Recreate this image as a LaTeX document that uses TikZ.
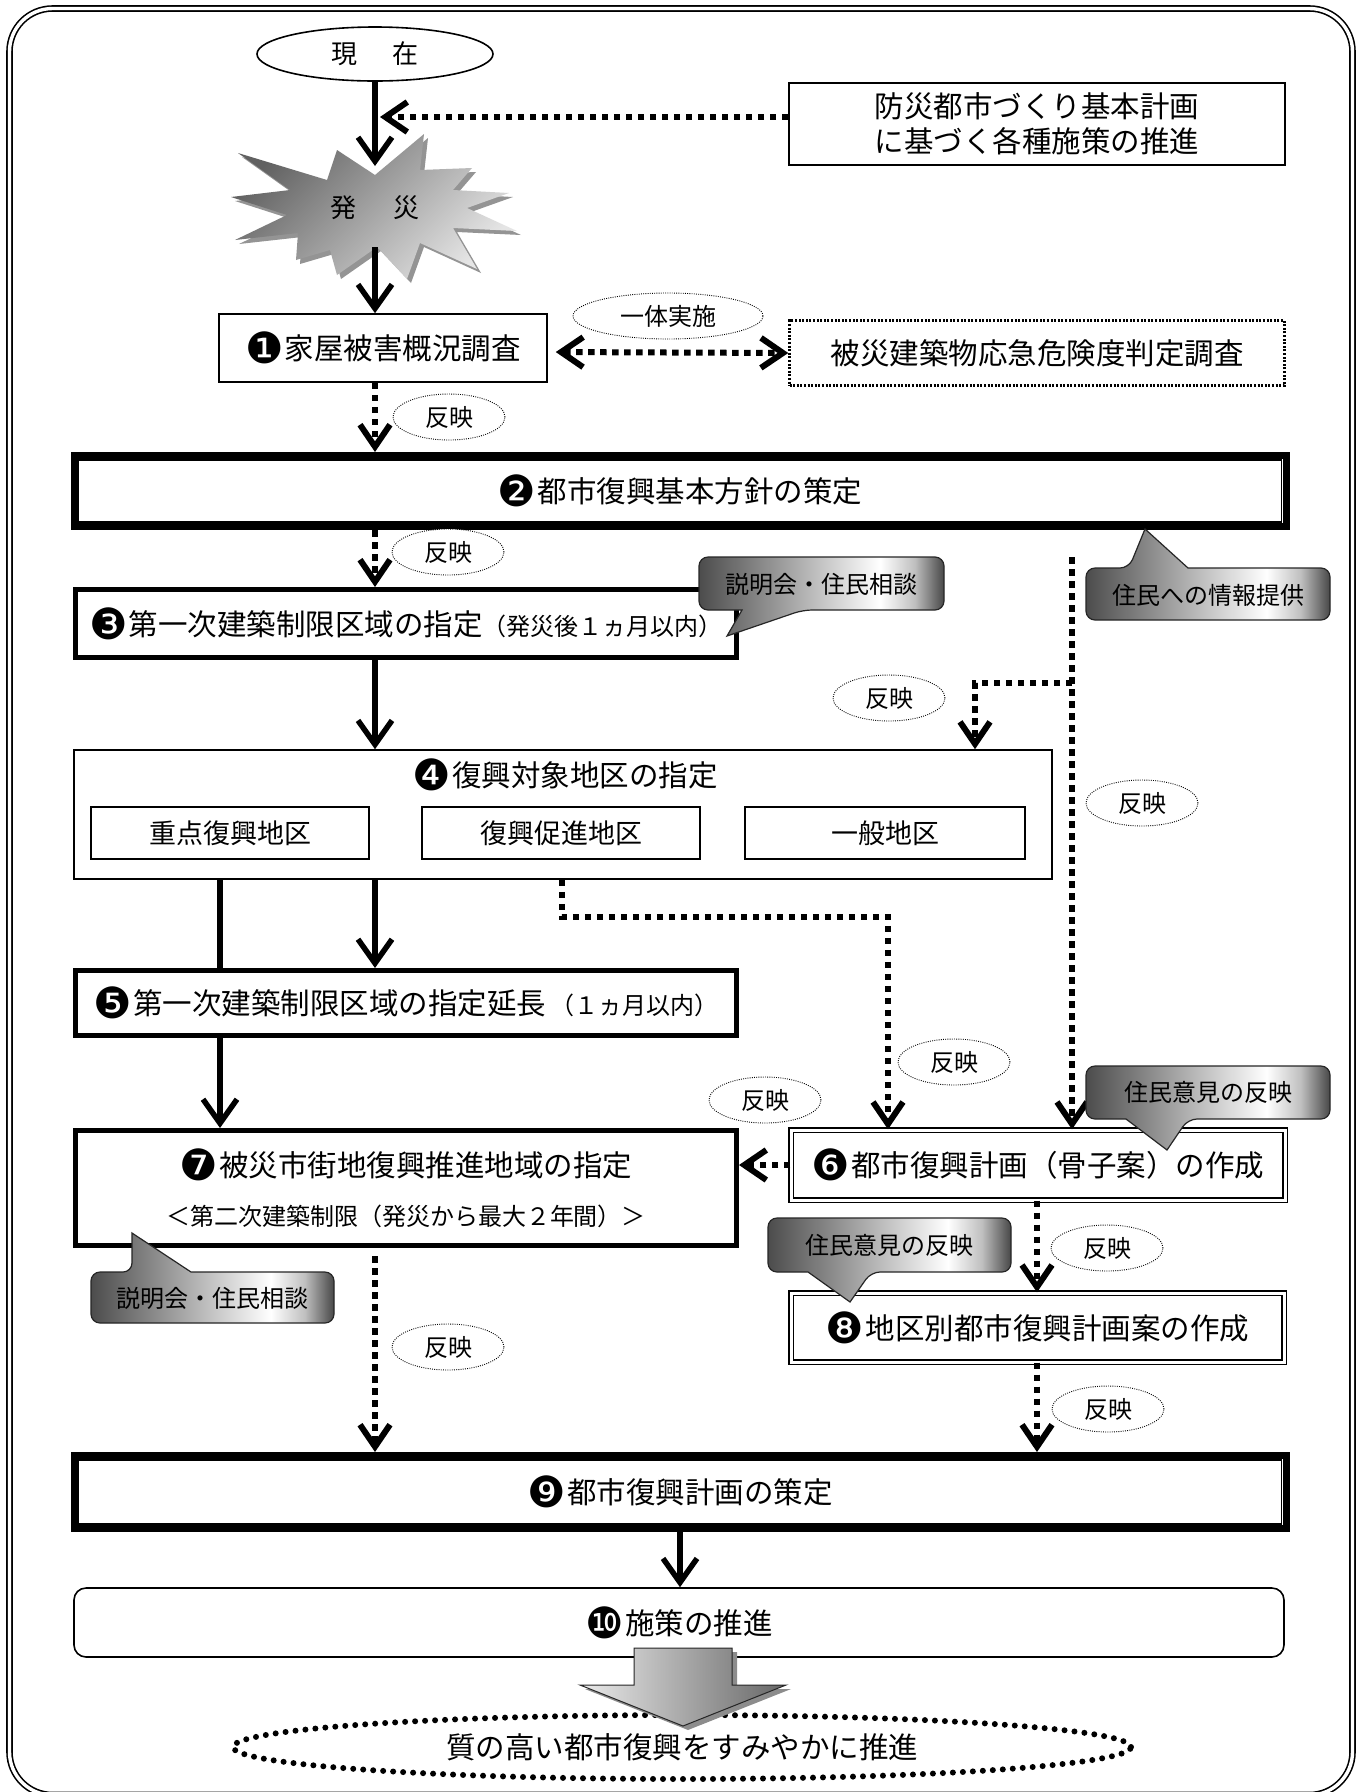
\documentclass[tikz,border=0pt]{standalone}
\usepackage{fontspec}
\usetikzlibrary{shapes.geometric,arrows.meta,calc}
\newfontfamily\jp{Noto Sans CJK JP}
\newfontfamily\dv{DejaVu Sans}
\newcommand\fmain{\jp\fontsize{29.5}{35}\selectfont}
\newcommand\fsmall{\jp\fontsize{24}{30}\selectfont}
\newcommand\fsub{\jp\fontsize{27}{32}\selectfont}
\newcommand\fnow{\jp\fontsize{26}{30}\selectfont}
% black circled step numbers, sized to the Japanese text
\newcommand\cnum[1]{\raisebox{-4pt}{\dv\fontsize{43}{43}\selectfont #1}\hspace{1pt}}
% metallic left-to-right shading for the speech bubbles (box maps to 25bp..75bp)
\pgfdeclarehorizontalshading{metal}{100bp}{color(0bp)=(black!70); color(25bp)=(black!70); color(40bp)=(black!42); color(62bp)=(white); color(69bp)=(black!25); color(75bp)=(black!72); color(100bp)=(black!72)}
\tikzset{
  boxline/.style={draw, line width=1.6pt, fill=white, inner sep=0pt, font=\fmain},
  heavyframe/.style={draw, line width=5pt, fill=white, inner sep=0pt, font=\fmain},
  bandframe/.style={draw, line width=7pt, fill=white, inner sep=0pt, font=\fmain},
  twinframe/.style={draw, line width=1.4pt, double, double distance=3pt, inner sep=0pt, font=\fmain},
  notebubble/.style={ellipse, draw, line width=0.9pt, dash pattern=on 0.9pt off 1.3pt, fill=white, inner sep=0pt, minimum width=112pt, minimum height=46pt, font=\fsmall},
  solidlink/.style={line width=5.5pt},
  solidarrow/.style={solidlink, -{Straight Barb[length=24pt,width=34pt]}},
  dotlink/.style={line width=6pt, dash pattern=on 6.5pt off 5.5pt},
  dotarrow/.style={dotlink, -{Straight Barb[length=22pt,width=30pt]}},
  callout/.style={draw=black!85, line width=1.2pt, shading=metal, rounded corners=9pt},
}
\begin{document}
\begin{tikzpicture}[x=1pt,y=-1pt]
\useasboundingbox (0,0) rectangle (1362,1792);
\clip (0,0) rectangle (1362,1792);
\fill[white] (0,0) rectangle (1362,1792);

% outer double frame
\draw[line width=1.6pt, double, double distance=3.4pt, rounded corners=43pt] (9.5,8.5) rectangle (1352.5,1795);

% guide lines for the vertical flows
\coordinate (spine) at (375,0);
\coordinate (lspine) at (220,0);
\coordinate (rspine) at (1037,0);

% start
\node[ellipse, draw, line width=1.6pt, minimum width=236pt, minimum height=54pt, inner sep=0pt, font=\fnow] (now) at (375,54) {現\hspace{36pt}在};

% plan box
\node[boxline, minimum width=496pt, minimum height=82pt, align=center] (plan) at (1037,124) {防災都市づくり基本計画\\に基づく各種施策の推進};

% disaster burst: shadow, then shaded body
\fill[black!42, shift={(4,4)}] (238,153) -- (327,180) -- (337,150) -- (375,175) -- (424,134) -- (420,170) -- (472,168) -- (453,190) -- (509,193) -- (467,208) -- (517,231) -- (453,228) -- (477,269) -- (420,243) -- (407,279) -- (377,247) -- (337,275) -- (330,250) -- (296,260) -- (298,233) -- (235,240) -- (287,215) -- (231,197) -- (290,190) -- cycle;
\shade[top color=black!62, bottom color=black!10, shading angle=45] (238,153) -- (327,180) -- (337,150) -- (375,175) -- (424,134) -- (420,170) -- (472,168) -- (453,190) -- (509,193) -- (467,208) -- (517,231) -- (453,228) -- (477,269) -- (420,243) -- (407,279) -- (377,247) -- (337,275) -- (330,250) -- (296,260) -- (298,233) -- (235,240) -- (287,215) -- (231,197) -- (290,190) -- cycle;
\node[font=\fnow] (quake) at (375,208) {発\hspace{38pt}災};
\coordinate (nowtip) at (375,166);
\coordinate (quakebase) at (375,247);
\coordinate (planjoin) at (380,117);

% step 1 and the joint survey
\node[boxline, minimum width=328pt, minimum height=68pt] (b1) at (383,348) {\cnum{❶}家屋被害概況調査};
\node[notebubble, minimum width=190pt] (ittai) at (668,316) {一体実施};
\node[draw, line width=2.5pt, dash pattern=on 2pt off 1.6pt, fill=white, minimum width=495pt, minimum height=65pt, inner sep=0pt, font=\fmain] (survey) at (1037,353) {被災建築物応急危険度判定調査};

% step 2
\node[bandframe, minimum width=1212pt, minimum height=71pt] (b2) at (680,491) {\cnum{❷}都市復興基本方針の策定};
\draw[line width=1.5pt] ([shift={(8,8)}]b2.north west) rectangle ([shift={(-8,-8)}]b2.south east);

% step 3
\node[heavyframe, minimum width=661pt, minimum height=68pt] (b3) at (406,623.5) {\cnum{❸}第一次建築制限区域の指定{\fsmall（発災後１ヵ月以内）}};

% step 4 with its three district types
\node[boxline, minimum width=978pt, minimum height=129pt] (b4) at (563,814.5) {};
\node[font=\fmain] (b4t) at (565,775) {\cnum{❹}復興対象地区の指定};
\node[boxline, line width=2pt, font=\fsub, minimum width=278pt, minimum height=52pt] (d1) at (230,833) {重点復興地区};
\node[boxline, line width=2pt, font=\fsub, minimum width=278pt, minimum height=52pt] (d2) at (561,833) {復興促進地区};
\node[boxline, line width=2pt, font=\fsub, minimum width=280pt, minimum height=52pt] (d3) at (885,833) {一般地区};

% step 5
\node[heavyframe, minimum width=661pt, minimum height=65pt] (b5) at (406,1003) {\cnum{❺}第一次建築制限区域の指定延長\hspace{4pt}{\fsmall（１ヵ月以内）}};

% step 7
\node[heavyframe, minimum width=661pt, minimum height=115pt, align=center] (b7) at (406,1188) {\cnum{❼}被災市街地復興推進地域の指定\\[14pt]{\fsmall ＜第二次建築制限（発災から最大２年間）＞}};

% steps 6 and 8
\node[twinframe, fill=white, minimum width=494pt, minimum height=70pt] (b6) at (1038,1165) {\cnum{❻}都市復興計画（骨子案）の作成};
\node[twinframe, fill=white, minimum width=493pt, minimum height=69pt] (b8) at (1037.5,1327.5) {\cnum{❽}地区別都市復興計画案の作成};

% step 9
\node[bandframe, minimum width=1212pt, minimum height=73pt] (b9) at (680,1492) {\cnum{❾}都市復興計画の策定};
\draw[line width=1.5pt] ([shift={(8,8)}]b9.north west) rectangle ([shift={(-8,-8)}]b9.south east);

% step 10
\node[boxline, rounded corners=12pt, minimum width=1210pt, minimum height=69pt] (b10) at (679,1622.5) {\cnum{❿}施策の推進};

% goal
\node[ellipse, draw, line width=6pt, dash pattern=on 0pt off 10pt, line cap=round, minimum width=898pt, minimum height=64pt, inner sep=0pt, font=\fmain] (goal) at (682,1747) {質の高い都市復興をすみやかに推進};

% large block arrow towards the goal
\fill[black!45, shift={(5,4)}] (634,1648) -- (732,1648) -- (732,1685) -- (786,1685) -- (683,1726) -- (580,1685) -- (634,1685) -- cycle;
\draw[black!85, line width=1pt, left color=black!8, right color=black!60] (634,1648) -- (732,1648) -- (732,1685) -- (786,1685) -- (683,1726) -- (580,1685) -- (634,1685) -- cycle;

% reflection labels
\node[notebubble] (r1) at (449,417) {反映};
\node[notebubble] (r2) at (448,552) {反映};
\node[notebubble] (r3) at (889,698) {反映};
\node[notebubble] (r4) at (1142,803) {反映};
\node[notebubble] (r5) at (954,1062) {反映};
\node[notebubble] (r6) at (765,1100) {反映};
\node[notebubble] (r7) at (1107,1248) {反映};
\node[notebubble] (r8) at (448,1347) {反映};
\node[notebubble] (r9) at (1108,1409) {反映};

% connectors
\coordinate (distrib) at (562,917);
\coordinate (elbow) at (888,917);
\coordinate (infotop) at (1072,557);
\coordinate (branch) at (1072,683);
\coordinate (branchend) at (975,683);

\draw[solidarrow] (now.south) -- (nowtip);
\draw[dotarrow] ([yshift=7pt]plan.west) -- (planjoin);
\draw[solidarrow] (quakebase) -- (b1.north -| spine);
\draw[dotlink, {Straight Barb[length=22pt,width=30pt]}-{Straight Barb[length=22pt,width=30pt]}, shorten <=8pt] ([yshift=-4pt]b1.east) -- (survey.west);
\draw[dotarrow] (b1.south -| spine) -- (b2.north -| spine);
\draw[dotarrow] (b2.south -| spine) -- (b3.north -| spine);
\draw[solidarrow] (b3.south -| spine) -- (b4.north -| spine);
\draw[solidlink] (b4.south -| lspine) -- (b5.north -| lspine);
\draw[solidarrow] (b4.south -| spine) -- (b5.north -| spine);
\draw[solidarrow] (b5.south -| lspine) -- (b7.north -| lspine);
\draw[dotarrow, shorten <=8pt] (b7.south -| spine) -- (b9.north -| spine);
\draw[dotarrow] (b4.south -| distrib) -- (distrib) -- (elbow) -- (b6.north -| elbow);
\draw[dotarrow] (infotop) -- (b6.north -| infotop);
\draw[dotarrow] (branch) -- (branchend) -- (b4.north -| branchend);
\draw[dotarrow] (b6.west) -- (b6.west -| b7.east);
\draw[dotarrow] (b6.south -| rspine) -- (b8.north -| rspine);
\draw[dotarrow] (b8.south -| rspine) -- (b9.north -| rspine);
\draw[solidarrow] (b9.south) -- (b9.south |- b10.north);

% speech bubbles
\draw[callout] (699,557) -- (944,557) -- (944,610) -- (803,610) [sharp corners] -- (727,636) -- (742,610) [rounded corners=9pt] -- (699,610) -- cycle;
\node[font=\fsmall] (ca) at (821,584) {説明会・住民相談};
\draw[callout] (1086,568) -- (1129,568) [sharp corners] -- (1145,529) -- (1188,568) [rounded corners=9pt] -- (1330,568) -- (1330,620) -- (1086,620) -- cycle;
\node[font=\fsmall] (cb) at (1208,595) {住民への情報提供};
\draw[callout] (91,1272) -- (132,1272) [sharp corners] -- (132,1233) -- (191,1272) [rounded corners=9pt] -- (334,1272) -- (334,1323) -- (91,1323) -- cycle;
\node[font=\fsmall] (cc) at (212,1298) {説明会・住民相談};
\draw[callout] (1086,1066) -- (1330,1066) -- (1330,1119) -- (1188,1119) [sharp corners] -- (1167,1150) -- (1126,1119) [rounded corners=9pt] -- (1086,1119) -- cycle;
\node[font=\fsmall] (cd) at (1208,1092) {住民意見の反映};
\draw[callout] (768,1218) -- (1011,1218) -- (1011,1272) -- (871,1272) [sharp corners] -- (850,1302) -- (808,1272) [rounded corners=9pt] -- (768,1272) -- cycle;
\node[font=\fsmall] (ce) at (889,1245) {住民意見の反映};
\end{tikzpicture}
\end{document}
